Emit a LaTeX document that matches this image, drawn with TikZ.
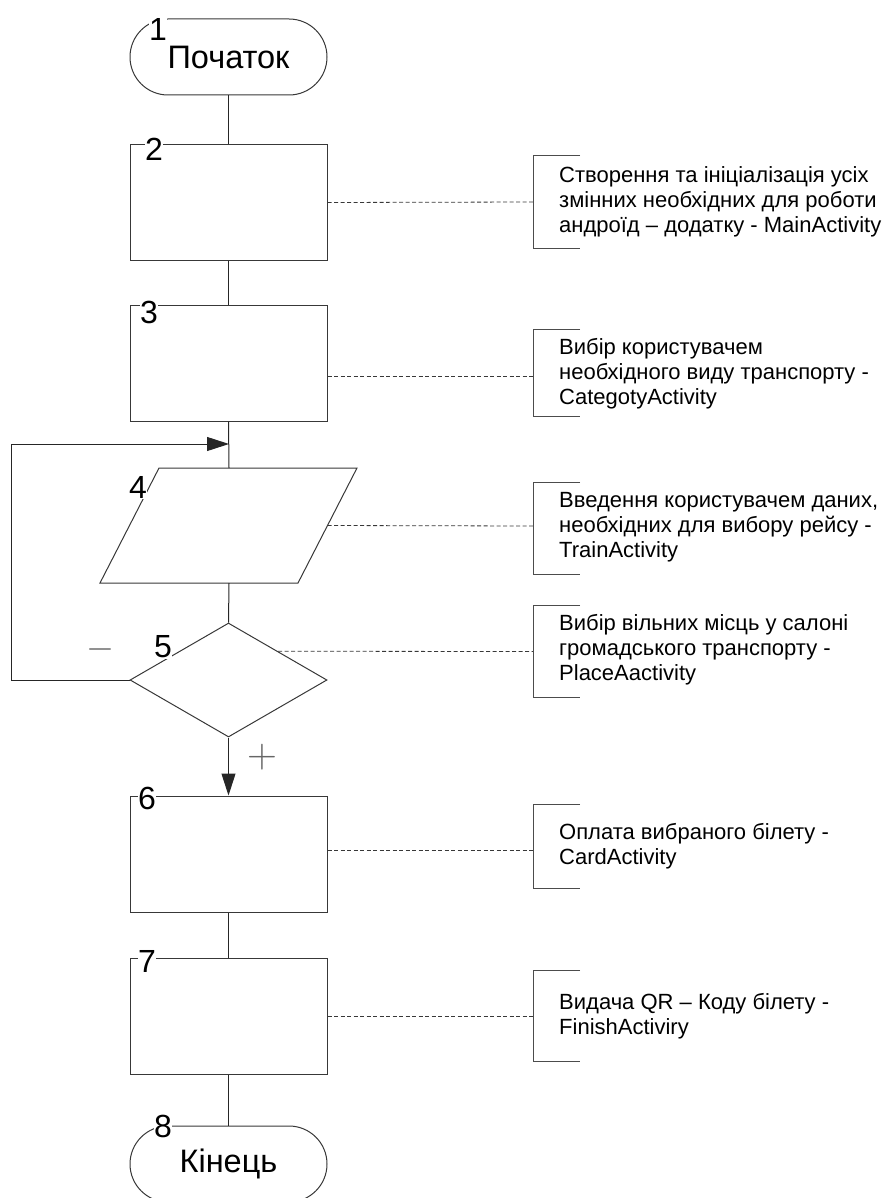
\documentclass[tikz,border=0pt]{standalone}
\usepackage{fontspec}
\setmainfont{Liberation Sans}
\usetikzlibrary{arrows.meta,shapes.geometric,shapes.misc}
\begin{document}
\begin{tikzpicture}[x=1pt,y=-1pt,
  shp/.style={draw=black!78, line width=1pt},
  conn/.style={draw=black!85, line width=1pt},
  cmtl/.style={draw=black!78, line width=0.8pt, dash pattern=on 4pt off 2.5pt},
  brk/.style={draw=black!70, line width=1pt},
  box/.style={shp, rectangle, minimum width=197pt, minimum height=116pt, inner sep=0pt},
  term/.style={shp, rounded rectangle, minimum width=197pt, minimum height=76pt, inner sep=0pt, font=\fontsize{32.5}{34}\selectfont},
  num/.style={fill=white, inner sep=0.5pt, font=\fontsize{32}{34}\selectfont},
  cmt/.style={anchor=west, align=left, font=\fontsize{22}{25}\selectfont, inner sep=0pt},
  sign/.style={text=black!60, inner sep=0pt},
  arr/.style={-{Triangle[length=22pt,width=14pt]}}
]
\useasboundingbox (0,0) rectangle (887,1198);
\clip (0,0) rectangle (887,1198);

% shapes
\node[term] (t1) at (228.5,57) {Початок};
\node[box, minimum height=115pt] (b2) at (228.5,202.5) {};
\node[box] (b3) at (228.5,363) {};
\coordinate (p4t) at (229,468);
\coordinate (p4b) at (229,583);
\coordinate (p4r) at (327.5,525.5);
\draw[shp] (159,468) -- (357,468) -- (298,583) -- (100,583) -- cycle;
\node[shp, diamond, minimum width=197pt, minimum height=114pt, inner sep=0pt] (d5) at (228.5,680) {};
\node[box] (b6) at (228.5,854) {};
\node[box] (b7) at (228.5,1016) {};
\node[term] (t8) at (228.5,1164) {Кінець};

% numbers
\node[num] at (158,29) {1};
\node[num] at (154,149) {2};
\node[num] at (149,312) {3};
\node[num] at (138,487) {4};
\node[num] at (163,647) {5};
\node[num] at (147,798) {6};
\node[num] at (147,961) {7};
\node[num] at (163,1126) {8};

% connectors
\coordinate (lp) at (229,444);
\draw[conn] (t1.south) -- (b2.north);
\draw[conn] (b2.south) -- (b3.north);
\draw[conn] (b3.south) -- (p4t);
\draw[conn] (p4b) -- (d5.north);
\draw[conn, arr] (d5.south) -- (b6.north);
\draw[conn] (b6.south) -- (b7.north);
\draw[conn] (b7.south) -- (t8.north);
\draw[conn, arr] (d5.west) -- ++(-118,0) |- (lp);

\node[sign, font=\fontsize{12}{12}\selectfont, scale=3] (mn) at (100,649) {$-$};
\node[sign, font=\fontsize{20}{20}\selectfont, scale=2] (pl) at (262,757) {$+$};

% comments
\coordinate (k2) at (533,202);
\coordinate (k3) at (533,376);
\coordinate (k4) at (533,526);
\coordinate (k5) at (533,651.5);
\coordinate (k6) at (533,850);
\coordinate (k7) at (533,1016);

\draw[cmtl] (b2.east) -- (k2);
\draw[cmtl] (b3.east |- k3) -- (k3);
\draw[cmtl] (p4r) -- (k4);
\draw[cmtl] (d5.north east) -- (k5);
\draw[cmtl] (b6.east |- k6) -- (k6);
\draw[cmtl] (b7.east) -- (k7);

\draw[brk] (580,156) -- (533,156) -- (533,248) -- (580,248);
\draw[brk] (580,329) -- (533,329) -- (533,416) -- (580,416);
\draw[brk] (580,482) -- (533,482) -- (533,574) -- (580,574);
\draw[brk] (580,605) -- (533,605) -- (533,697) -- (580,697);
\draw[brk] (580,804) -- (533,804) -- (533,888) -- (580,888);
\draw[brk] (580,970) -- (533,970) -- (533,1061) -- (580,1061);

\node[cmt] (c2) at (559,202) {Створення та ініціалізація усіх\\змінних необхідних для роботи\\андроїд – додатку - MainActivity};
\node[cmt] (c3) at (559,374) {Вибір користувачем\\необхідного виду транспорту -\\CategotyActivity};
\node[cmt] (c4) at (559,527) {Введення користувачем даних,\\необхідних для вибору рейсу -\\TrainActivity};
\node[cmt] (c5) at (559,650) {Вибір вільних місць у салоні\\громадського транспорту -\\PlaceAactivity};
\node[cmt] (c6) at (559,846) {Оплата вибраного білету -\\CardActivity};
\node[cmt] (c7) at (559,1016) {Видача QR – Коду білету -\\FinishActiviry};
\end{tikzpicture}
\end{document}
